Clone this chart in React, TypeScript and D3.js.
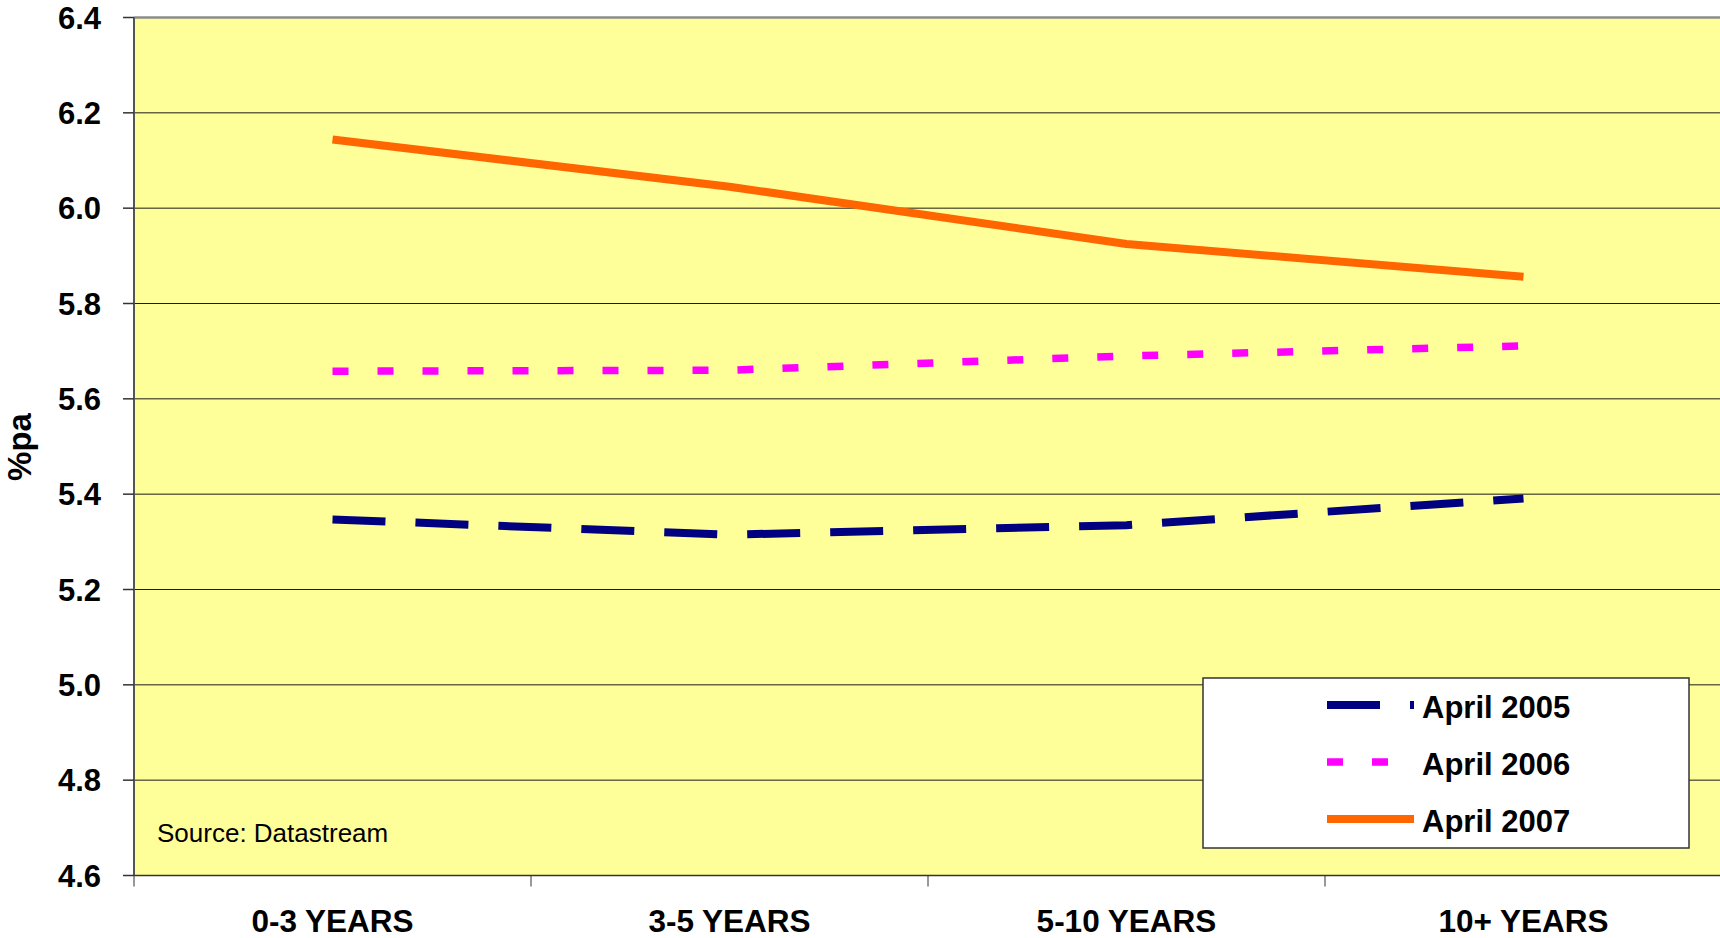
import React from "react";
import * as d3 from "d3";

const categories = ["0-3 YEARS", "3-5 YEARS", "5-10 YEARS", "10+ YEARS"];
const april2005 = [5.347, 5.315, 5.335, 5.391];
const april2006 = [5.658, 5.66, 5.69, 5.711];
const april2007 = [6.144, 6.045, 5.925, 5.856];
const yTicks = [4.6, 4.8, 5.0, 5.2, 5.4, 5.6, 5.8, 6.0, 6.2, 6.4];
const seriesNames = ["April 2005", "April 2006", "April 2007"];

const W = 1720;
const H = 938;
const left = 134;
const right = 1722;
const top = 17.5;
const bottom = 875.5;
const FONT = "'Liberation Sans', Arial, sans-serif";

const series = [
  { name: seriesNames[0], values: april2005, color: "#000080", dash: "53 30", width: 8 },
  { name: seriesNames[1], values: april2006, color: "#FF00FF", dash: "16 29", width: 7.5 },
  { name: seriesNames[2], values: april2007, color: "#FF6600", dash: "", width: 8 },
];

export default function App() {
  const x = d3.scaleBand<string>().domain(categories).range([left, right]).padding(0);
  const y = d3.scaleLinear().domain([4.6, 6.4]).range([bottom, top]);
  const cx = (c: string) => (x(c) as number) + x.bandwidth() / 2;

  const line = d3
    .line<number>()
    .x((_, i) => cx(categories[i]))
    .y((v) => y(v))
    .curve(d3.curveLinear);

  const legend = { x: 1203, y: 678, w: 486, h: 170 };
  const legendBaselines = [718, 775, 832];

  return (
    <svg
      width={W}
      height={H}
      style={{ position: "absolute", left: 0, top: 0, background: "#ffffff" }}
    >
      <rect x={left} y={top} width={right - left} height={bottom - top} fill="#FFFF99" />
      {yTicks.slice(1, -1).map((t) => (
        <line key={t} x1={left} x2={right} y1={y(t)} y2={y(t)} stroke="#1a1a1a" strokeWidth={1} />
      ))}
      <line x1={left} x2={right} y1={y(6.4)} y2={y(6.4)} stroke="#8c8c8c" strokeWidth={2.5} />
      <line x1={left} x2={right} y1={y(4.6)} y2={y(4.6)} stroke="#333333" strokeWidth={1.5} />
      <line x1={left} x2={left} y1={top} y2={bottom} stroke="#555555" strokeWidth={2} />
      {yTicks.map((t) => (
        <g key={"yt" + t}>
          <line x1={123} x2={left} y1={y(t)} y2={y(t)} stroke="#333" strokeWidth={1.5} />
          <text
            x={101}
            y={y(t)}
            dy="0.36em"
            textAnchor="end"
            fontFamily={FONT}
            fontWeight="bold"
            fontSize={31}
            fill="#000"
          >
            {t.toFixed(1)}
          </text>
        </g>
      ))}
      {categories.map((c) => (
        <g key={c}>
          <line
            x1={x(c) as number}
            x2={x(c) as number}
            y1={bottom}
            y2={bottom + 11}
            stroke="#333"
            strokeWidth={1}
          />
          <text
            x={cx(c)}
            y={932}
            textAnchor="middle"
            fontFamily={FONT}
            fontWeight="bold"
            fontSize={31.5}
            fill="#000"
          >
            {c}
          </text>
        </g>
      ))}
      <text
        transform="translate(31,447) rotate(-90)"
        textAnchor="middle"
        fontFamily={FONT}
        fontWeight="bold"
        fontSize={33}
        fill="#000"
      >
        %pa
      </text>
      {series.map((s) => (
        <path
          key={s.name}
          d={line(s.values) || ""}
          fill="none"
          stroke={s.color}
          strokeWidth={s.width}
          strokeDasharray={s.dash || undefined}
          strokeLinecap="butt"
          strokeLinejoin="round"
        />
      ))}
      <text x={157} y={842} fontFamily={FONT} fontSize={26} fill="#000">
        Source: Datastream
      </text>
      <rect
        x={legend.x}
        y={legend.y}
        width={legend.w}
        height={legend.h}
        fill="#ffffff"
        stroke="#333"
        strokeWidth={1.5}
      />
      {series.map((s, i) => (
        <g key={"lg" + s.name}>
          <line
            x1={1327}
            x2={1414}
            y1={legendBaselines[i] - 13}
            y2={legendBaselines[i] - 13}
            stroke={s.color}
            strokeWidth={s.width}
            strokeDasharray={s.dash || undefined}
          />
          <text
            x={1422}
            y={legendBaselines[i]}
            fontFamily={FONT}
            fontWeight="bold"
            fontSize={31}
            fill="#000"
          >
            {s.name}
          </text>
        </g>
      ))}
    </svg>
  );
}
